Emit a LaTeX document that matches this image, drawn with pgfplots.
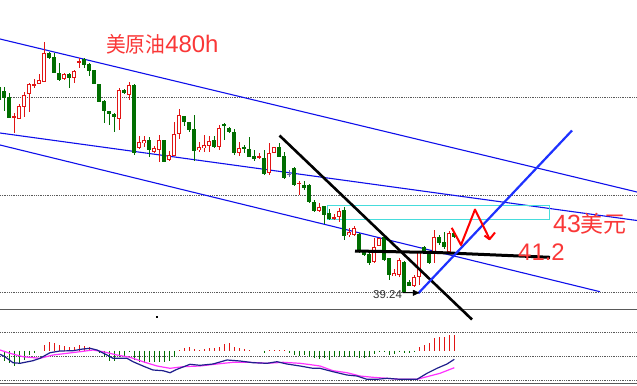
\documentclass[border=0pt]{standalone}
\usepackage{graphicx}
\usepackage{pgfplots}
\pgfplotsset{compat=1.18}
\usepackage{pgfplotstable}
\usepackage{fontspec}
\setmainfont{Liberation Sans}
\newfontfamily\cjk{Noto Sans CJK SC}
\definecolor{candred}{RGB}{225,20,20}
\definecolor{candgreen}{RGB}{0,110,0}
\definecolor{chanblue}{RGB}{15,15,235}
\definecolor{thickblue}{RGB}{30,50,255}
\definecolor{txtred}{RGB}{250,55,55}
\definecolor{boxcyan}{RGB}{70,220,220}
\definecolor{dotgray}{RGB}{90,90,90}
\definecolor{navy}{RGB}{30,30,140}
\definecolor{magen}{RGB}{255,50,255}

% body top/bottom, wick top/bottom in picture rows (down = larger)
\pgfplotstableread{
k bt bb wt wb
-1 87 100 85 102
0 91 97.7 86.7 111
1 97 117.7 93 118
9 53 58 52 59
10 57 73 53 73
11 73 80 63 81
13 74 78 73 88
16 59 65 58 68
17 64 71 63 76
18 70 84 70 84
19 84 102 84 102
20 101 111 100 123
21 111 114 111 125
22 114 117 113 132
24 90 93 89 94
26 85 153 84 155
29 140 150 137 157
32 140 162 140 162
36 116 122 116 126
37 122 130 122 132
38 129 151 115 161
42 140 147 136 148
44 124 125 123 140
45 128 132 127 133
46 132 153 129 155
48 147 149 145 153
49 149 157 137 157
50 156 159 150 161
52 158 174 150 175
55 147 157 143 157
56 156 178 152 179
58 168 185 167 186
60 185 188 181 190
61 185 202 184 203
62 202 211 200 212
64 206 215 206 224
65 213 219 209 220
68 210 236 207 240
71 234 250 233 253
72 251 255 250 256
73 254 263 253 265
76 237 260 237 261
77 258 275 258 280
80 262 292 261 292
81 282 286 280 286
84 247 252 246 253
85 252 263 252 264
87 237 243 235 245
88 242 247 232 249
90 233 237 232 238
}\greenc

\pgfplotstableread{
k bt bb wt wb
2 116.5 117 113 133
3 106 119.3 104 119.3
4 95 107 92 117
5 84 94 83 112
6 84 86 79 88
7 80 84 74 84
8 53 82 42 82
12 74 79 73 80
14 71 78 70 83
15 61 63 58 68
23 90 119 88 130
25 85 95 82 100
27 142 148 136 149
28 140 143 136 147
30 148 152 146 153
31 140 150 135 162
33 155 160 151 161
34 134 156 122 156
35 115 134 109 139
39 147 150 142 152
40 145 148 135 152
41 141 146 136 152
43 128 147 125 150
47 148 153 142 156
51 156 158 153 159
53 153 173 143 175
54 147 153 147 153
59 183 183.5 181 195
63 207 211 203 212
66 217 219 214 220
67 211 217 208 222
69 232 235 228 237
70 228 235 226 236
74 247 262 238 263
75 238 246 238 246
78 273 276 269 276
79 260 275 258 277
82 277 286 275 287
83 252 277 251 285
86 237 253 230 263
89 233 252 231 254
}\redc

\pgfplotstableread{
k bt bb wt wb
57 173.6 174.4 170 177
}\grayc

% MACD histogram (pixel lengths)
\pgfplotstableread{
k h
0 10
1 12.7
2 15
3 12.3
4 9.3
5 4.3
6 2.3
19 2.7
20 6.7
21 10
22 10.7
23 6.7
24 5
25 1.7
26 9.3
27 11
28 12.7
29 11.7
30 11
31 11
32 11.7
33 10
34 6.7
52 2.7
57 2.7
58 4
59 5
60 4.3
61 6
62 7.3
63 8.3
64 7.3
65 9
66 6.7
67 5
68 6.7
69 6
70 6.7
71 7.3
72 7.3
73 6.7
74 3.3
75 1.7
76 1.7
77 4
78 3.3
79 1
80 2.7
81 2.7
82 0.7
}\macdg

\pgfplotstableread{
k h
8 5.7
9 8.7
10 7.3
11 6
12 5
13 4
14 4
15 5.3
16 5
17 4
35 0.7
36 3
37 4
38 2
39 1
40 1.3
41 2.3
42 2.3
43 4
44 6.3
45 7.3
46 4
47 2.3
48 1.3
49 0.7
53 0.7
54 0.7
55 0.7
56 0.7
83 4
84 6
85 7.3
86 12.3
87 13.3
88 13.3
89 15.3
90 15.3
}\macdr

\begin{document}
\begin{tikzpicture}
\begin{axis}[
  width=637bp, height=386bp, scale only axis,
  xmin=0, xmax=637, ymin=0, ymax=386, y dir=reverse,
  hide axis, clip=true,
]
% background
\addplot[fill=white, draw=none, forget plot] coordinates {(0,0) (637,0) (637,386) (0,386)};

% horizontal grid lines
\addplot[dotgray, densely dotted, line width=0.8bp, forget plot] coordinates {(0,97.3) (637,97.3)};
\addplot[dotgray, densely dotted, line width=0.8bp, forget plot] coordinates {(0,195) (637,195)};
\addplot[dotgray, densely dotted, line width=0.8bp, forget plot] coordinates {(0,292.7) (637,292.7)};
\addplot[dotgray, densely dotted, line width=0.8bp, forget plot] coordinates {(0,332.3) (637,332.3)};
\addplot[dotgray, densely dotted, line width=0.8bp, forget plot] coordinates {(0,356) (637,356)};
\addplot[dotgray, densely dotted, line width=0.8bp, forget plot] coordinates {(0,380) (637,380)};
\addplot[black!65, line width=1bp, forget plot] coordinates {(0,309.3) (637,309.3)};
\addplot[black!65, line width=1bp, forget plot] coordinates {(0,383.5) (637,383.5)};

% channel lines
\addplot[chanblue, line width=1.1bp, forget plot] coordinates {(0,39) (637,192)};
\addplot[chanblue, line width=1.1bp, forget plot] coordinates {(0,133) (637,220.5)};
\addplot[chanblue, line width=1.1bp, forget plot] coordinates {(0,145) (600,291.7)};

% cyan box
\addplot[boxcyan, line width=1bp, forget plot] coordinates {(327,205) (549,205) (549,219.3) (327,219.3) (327,205)};

% wicks
\addplot[draw=none, mark=none, forget plot, error bars/.cd, y dir=both, y explicit, error mark=none,
  error bar style={line width=1bp, draw=candgreen, solid}]
  table[x expr=4.3+5*\thisrow{k}, y expr=(\thisrow{wt}+\thisrow{wb})/2, y error expr=(\thisrow{wb}-\thisrow{wt})/2] {\greenc};
\addplot[draw=none, mark=none, forget plot, error bars/.cd, y dir=both, y explicit, error mark=none,
  error bar style={line width=1bp, draw=candred, solid}]
  table[x expr=4.3+5*\thisrow{k}, y expr=(\thisrow{wt}+\thisrow{wb})/2, y error expr=(\thisrow{wb}-\thisrow{wt})/2] {\redc};
\addplot[draw=none, mark=none, forget plot, error bars/.cd, y dir=both, y explicit, error mark=none,
  error bar style={line width=1bp, draw=gray!80!blue, solid}]
  table[x expr=4.3+5*\thisrow{k}, y expr=(\thisrow{wt}+\thisrow{wb})/2, y error expr=(\thisrow{wb}-\thisrow{wt})/2] {\grayc};
% bodies
\addplot[draw=none, mark=none, forget plot, error bars/.cd, y dir=both, y explicit, error mark=none,
  error bar style={line width=4bp, draw=candgreen, solid}]
  table[x expr=4.3+5*\thisrow{k}, y expr=(\thisrow{bt}+\thisrow{bb})/2, y error expr={max((\thisrow{bb}-\thisrow{bt})/2,0.6)}] {\greenc};
\addplot[draw=none, mark=none, forget plot, error bars/.cd, y dir=both, y explicit, error mark=none,
  error bar style={line width=4bp, draw=candred, solid}]
  table[x expr=4.3+5*\thisrow{k}, y expr=(\thisrow{bt}+\thisrow{bb})/2, y error expr={max((\thisrow{bb}-\thisrow{bt})/2,0.6)}] {\redc};
\addplot[draw=none, mark=none, forget plot, error bars/.cd, y dir=both, y explicit, error mark=none,
  error bar style={line width=2bp, draw=white, solid}]
  table[x expr=4.3+5*\thisrow{k}, y expr=(\thisrow{bt}+\thisrow{bb})/2, y error expr={max((\thisrow{bb}-\thisrow{bt})/2-1,0)}] {\redc};
\addplot[draw=none, mark=none, forget plot, error bars/.cd, y dir=both, y explicit, error mark=none,
  error bar style={line width=4bp, draw=gray!80!blue, solid}]
  table[x expr=4.3+5*\thisrow{k}, y expr=(\thisrow{bt}+\thisrow{bb})/2, y error expr={max((\thisrow{bb}-\thisrow{bt})/2,0.5)}] {\grayc};

% MACD histogram
\addplot[draw=none, mark=none, forget plot, error bars/.cd, y dir=plus, y explicit, error mark=none,
  error bar style={line width=1.4bp, draw=candgreen, solid}]
  table[x expr=4.3+5*\thisrow{k}, y expr=350.5, y error expr=\thisrow{h}] {\macdg};
\addplot[draw=none, mark=none, forget plot, error bars/.cd, y dir=minus, y explicit, error mark=none,
  error bar style={line width=1.4bp, draw=candred, solid}]
  table[x expr=4.3+5*\thisrow{k}, y expr=350.5, y error expr=\thisrow{h}] {\macdr};

% MACD lines
\addplot[magen, line width=1.2bp, forget plot] coordinates {
(0,350) (10,353.3) (23,356.7) (40,358.3) (53,355) (67,353.3) (80,351.7) (93,350) (103,351.7) (117,355) (130,357.3) (143,361.7) (157,366) (170,368.3) (183,366.7) (200,366) (217,364) (233,362.3) (250,362.3) (267,363.3) (283,362.3) (300,363.3) (313,365) (320,366) (333,370.7) (347,372.7) (360,376) (373,377.3) (387,378.3) (400,379.3) (417,379.3) (427,376.7) (440,373.3) (454.3,367.7)};
\addplot[navy, line width=1.2bp, forget plot] coordinates {
(0,354.3) (5,356.7) (13,362.7) (20,363.3) (33,360.7) (40,358.3) (50,352.7) (60,351) (73,350.7) (83,349) (90,348.3) (97,350) (107,355) (113,358.3) (127,358.3) (133,361.7) (143,366) (153,370) (163,370.7) (170,372.7) (177,369.3) (190,364.3) (200,365.3) (213,364) (227,360) (240,361) (253,362.7) (267,363.3) (277,361.7) (287,364) (300,366) (313,368.3) (320,368.3) (333,371.7) (347,375) (357,376) (367,379.3) (377,379.3) (387,378.3) (400,379.3) (417,379.3) (427,373.3) (437,368.3) (447,364) (454.3,359.3)};
\addplot[only marks, mark=square*, mark size=0.5bp, black, forget plot] coordinates {(157,317)};

% drawn trend lines
\addplot[black, line width=2.6bp, forget plot] coordinates {(279.5,135.5) (472,319.5)};
\addplot[black, line width=3bp, forget plot] coordinates {(355,251) (437,252.5) (550,257.3)};
\addplot[thickblue, line width=2.2bp, forget plot] coordinates {(418.3,293.3) (572,130.5)};
\addplot[black, line width=1bp, forget plot] coordinates {(403,292.6) (416,292.8)};
\addplot[black, fill=black, forget plot] coordinates {(413,290) (419,292.8) (413,295.6) (413,290)};
\addplot[red, line width=2bp, line join=round, forget plot] coordinates {(451.7,227.8) (461,245) (475,209.5) (489.5,238.8)};
\addplot[red, line width=2bp, line join=round, forget plot] coordinates {(484.5,235.5) (489.5,239.3) (495,232.5)};

% texts
\node[anchor=base west, inner sep=0, text=txtred] at (axis cs:106,52)
  {{\cjk\fontsize{21.5}{22}\selectfont\scalebox{0.92}[1]{美原油}}{\fontsize{24}{24}\selectfont 480h}};
\node[anchor=base west, inner sep=0, text=txtred] at (axis cs:553,232)
  {{\fontsize{25}{25}\selectfont 43}{\cjk\fontsize{23}{23}\selectfont 美元}};
\node[anchor=base west, inner sep=0, text=txtred] at (axis cs:518,260)
  {\fontsize{24}{24}\selectfont 41.2};
\node[anchor=base west, inner sep=0, text=black!80] at (axis cs:373,298)
  {\fontsize{11.5}{12}\selectfont 39.24};
\end{axis}
\end{tikzpicture}
\end{document}
